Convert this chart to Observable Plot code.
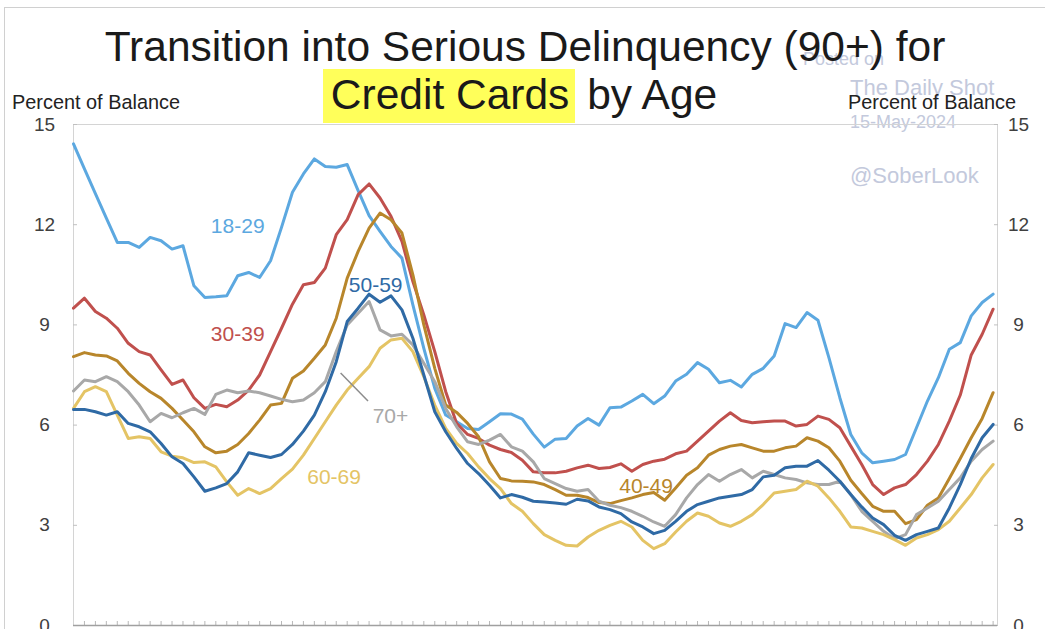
<!DOCTYPE html>
<html>
<head>
<meta charset="utf-8">
<script src="https://cdn.jsdelivr.net/npm/d3@7"></script>
<script src="https://cdn.jsdelivr.net/npm/@observablehq/plot@0.6"></script>
<style>
  html, body { margin: 0; padding: 0; background: #fff; }
  #wrap { position: relative; width: 1045px; height: 629px; overflow: hidden; font-family: "Liberation Sans", Arial, sans-serif; }
  #border { position: absolute; left: 4px; top: 7px; right: -2px; bottom: -2px; border: 1px solid #d0d0d0; }
  .abs { position: absolute; white-space: nowrap; }
  .wm { color: #c3c9dc; }
  #chart { position: absolute; left: 0; top: 0; }
</style>
</head>
<body>
<div id="wrap">
  <div id="border"></div>
  <div class="abs wm" style="left:803px; top:49px; font-size:18px;">Posted on</div>
  <div class="abs wm" style="left:850px; top:75px; font-size:22px;">The Daily Shot</div>
  <div class="abs wm" style="left:850px; top:112px; font-size:18px;">15-May-2024</div>
  <div id="chart"></div>
  <div class="abs" style="left:0; width:1050px; text-align:center; top:26px; font-size:42.5px; line-height:42px; color:#1a1a1a;">Transition into Serious Delinquency (90+) for</div>
  <div class="abs" style="left:0; width:1040px; text-align:center; top:74px; font-size:42.5px; line-height:42px; color:#1a1a1a;"><span style="background:#ffff5a; padding:2px 6px 5px 8px;">Credit Cards</span> by Age</div>
  <div class="abs" style="left:12px; top:90px; font-size:20.5px; color:#222; transform:scaleX(0.97); transform-origin:left;">Percent of Balance</div>
  <div class="abs" style="left:848px; top:90px; font-size:20.5px; color:#222; transform:scaleX(0.97); transform-origin:left;">Percent of Balance</div>
  <div class="abs wm" style="left:850px; top:163px; font-size:22px;">@SoberLook</div>
</div>
<script>
// Quarterly observations, 2003Q1 .. 2024Q1 (85 quarters)
const quarters = d3.range(85).map(i => `${2003 + Math.floor(i / 4)}Q${(i % 4) + 1}`);

const ages = ["18-29", "30-39", "40-49", "50-59", "60-69", "70+"];
const colors = ["#5ca8e0", "#c0504d", "#b8862b", "#2f6aa5", "#e4c465", "#a8a8a8"];

const s18_29 = [14.42,13.67,12.93,12.2,11.47,11.47,11.32,11.62,11.52,11.27,11.37,10.17,9.82,9.84,9.87,10.47,10.57,10.42,10.92,11.92,12.97,13.52,13.97,13.74,13.72,13.8,13.02,12.27,11.8,11.35,11.0,9.6,8.3,7.1,6.3,6.1,5.9,5.87,6.1,6.34,6.33,6.18,5.73,5.34,5.58,5.6,5.97,6.2,6.0,6.52,6.54,6.72,6.92,6.64,6.87,7.32,7.52,7.87,7.67,7.27,7.34,7.14,7.52,7.7,8.07,9.04,8.92,9.37,9.14,8.02,6.82,5.72,5.17,4.87,4.92,4.97,5.12,5.92,6.72,7.42,8.27,8.47,9.27,9.67,9.92];
const s30_39 = [9.5,9.8,9.4,9.2,8.9,8.45,8.2,8.1,7.65,7.22,7.35,6.82,6.5,6.62,6.55,6.75,7.05,7.5,8.2,8.9,9.62,10.2,10.27,10.7,11.7,12.15,12.9,13.22,12.8,12.25,11.5,10.3,9.3,8.2,7.0,6.05,5.72,5.6,5.4,5.27,5.18,4.95,4.6,4.57,4.57,4.62,4.72,4.8,4.7,4.73,4.84,4.62,4.82,4.92,4.98,5.14,5.22,5.52,5.82,6.12,6.37,6.14,6.07,6.1,6.12,6.12,5.97,6.02,6.27,6.17,5.92,5.37,4.82,4.22,3.92,4.12,4.22,4.52,4.92,5.42,6.12,6.9,8.1,8.72,9.47];
const s40_49 = [8.05,8.17,8.1,8.07,7.92,7.55,7.25,7.0,6.8,6.5,6.15,5.8,5.35,5.17,5.22,5.42,5.75,6.15,6.6,6.65,7.4,7.62,8.0,8.4,9.2,10.4,11.2,11.9,12.35,12.15,11.75,10.5,9.0,7.7,6.6,6.38,6.05,5.65,4.9,4.4,4.33,4.32,4.3,4.22,4.07,3.9,3.9,3.83,3.68,3.65,3.74,3.82,3.92,3.98,3.75,4.12,4.5,4.72,5.1,5.27,5.37,5.42,5.32,5.22,5.22,5.32,5.37,5.62,5.52,5.32,4.92,4.35,3.95,3.57,3.42,3.42,3.05,3.17,3.6,3.82,4.4,5.0,5.62,6.2,6.97];
const s50_59 = [6.47,6.47,6.4,6.3,6.4,6.05,5.95,5.8,5.45,5.05,4.85,4.45,4.02,4.12,4.25,4.6,5.17,5.1,5.03,5.12,5.42,5.82,6.3,7.0,7.9,9.1,9.5,9.92,9.68,9.87,9.45,8.6,7.5,6.4,5.8,5.3,4.85,4.55,4.2,3.82,3.92,3.84,3.72,3.7,3.67,3.63,3.78,3.73,3.55,3.47,3.35,3.1,2.95,2.75,2.85,3.12,3.42,3.62,3.72,3.82,3.87,3.92,4.07,4.45,4.5,4.72,4.77,4.77,4.94,4.65,4.32,3.92,3.55,3.22,3.02,2.7,2.55,2.72,2.82,2.92,3.52,4.22,5.0,5.62,6.02];
const s60_69 = [6.5,7.0,7.15,7.0,6.3,5.6,5.65,5.6,5.2,5.07,5.02,4.88,4.9,4.75,4.3,3.9,4.1,3.95,4.1,4.4,4.68,5.1,5.6,6.1,6.6,7.05,7.4,7.75,8.3,8.55,8.6,8.2,7.45,6.6,5.9,5.45,5.15,4.75,4.4,4.1,3.65,3.42,3.05,2.72,2.55,2.4,2.38,2.65,2.85,3.0,3.12,2.95,2.55,2.3,2.45,2.8,3.12,3.37,3.27,3.07,2.97,3.12,3.32,3.62,3.97,4.02,4.07,4.32,4.17,3.82,3.42,2.95,2.92,2.82,2.72,2.57,2.4,2.62,2.72,2.87,3.12,3.52,3.92,4.42,4.82];
const s70_plus = [7.02,7.35,7.3,7.45,7.3,7.0,6.6,6.1,6.35,6.22,6.37,6.5,6.32,6.92,7.05,6.97,7.02,6.97,6.87,6.77,6.7,6.75,6.97,7.3,8.2,9.0,9.35,9.7,8.85,8.67,8.72,8.4,7.85,7.3,6.5,5.95,5.5,5.42,5.55,5.72,5.35,5.22,4.9,4.4,4.25,4.1,4.02,4.07,3.72,3.6,3.53,3.42,3.27,3.1,2.97,3.32,3.82,4.22,4.52,4.32,4.52,4.67,4.42,4.62,4.52,4.42,4.37,4.27,4.22,4.22,4.32,3.92,3.42,3.12,2.82,2.6,2.72,3.32,3.52,3.72,4.07,4.42,4.92,5.27,5.52];

const yTicks = [0, 3, 6, 9, 12, 15];
const xTicks = d3.range(1, 85);

// label anchors (quarter index, value) for series names
const labelX = [15.0, 15.0, 52.3, 27.6, 23.8, 28.95];
const labelY = [11.94, 8.73, 4.17, 10.2, 4.44, 6.27];

const seriesValues = [s18_29, s30_39, s40_49, s50_59, s60_69, s70_plus];
const drawOrder = ["18-29", "30-39", "40-49", "70+", "60-69", "50-59"];

const rows = [];
for (const age of drawOrder) {
  const vals = seriesValues[ages.indexOf(age)];
  vals.forEach((v, i) => rows.push({age, q: quarters[i], i, v}));
}
const labels = ages.map((age, k) => ({age, x: labelX[k], y: labelY[k]}));
const leader = [{x1: 24.4, y1: 7.56, x2: 26.9, y2: 6.72}];

const chart = Plot.plot({
  width: 1045,
  height: 629,
  marginTop: 124,
  marginBottom: 4,
  marginLeft: 73,
  marginRight: 48,
  style: {fontFamily: "'Liberation Sans', Arial, sans-serif", fontSize: "19px", background: "transparent", overflow: "visible"},
  x: {domain: [0, 84.4], axis: null},
  y: {domain: [0, 15], axis: null},
  color: {domain: ages, range: colors},
  marks: [
    Plot.frame({stroke: "#d4d4d4"}),
    Plot.axisX(xTicks, {anchor: "bottom", tickSize: -4, tickFormat: () => "", stroke: "#b8b8b8"}),
    Plot.axisY(yTicks, {anchor: "left", tickSize: -4, tickPadding: 33, textAnchor: "middle", stroke: "#c0c0c0", fill: "#404040"}),
    Plot.axisY(yTicks, {anchor: "right", tickSize: -4, tickPadding: 25, textAnchor: "middle", stroke: "#c0c0c0", fill: "#404040"}),
    Plot.ruleY([0], {stroke: "#a0a0a0", strokeWidth: 1.5}),
    Plot.line(rows, {x: "i", y: "v", z: "age", stroke: "age", strokeWidth: 3, curve: "linear"}),
    Plot.link(leader, {x1: "x1", y1: "y1", x2: "x2", y2: "y2", stroke: "#8c8c8c", strokeWidth: 1.5}),
    Plot.text(labels, {x: "x", y: "y", text: "age", fill: "age", fontSize: 21})
  ]
});
document.getElementById("chart").appendChild(chart);
</script>
</body>
</html>
